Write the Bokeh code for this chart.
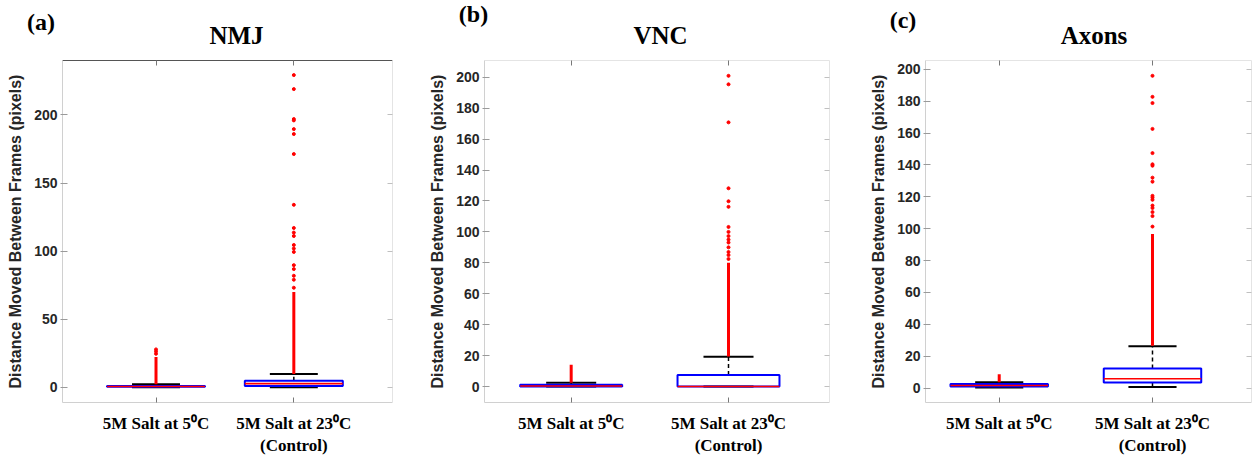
from bokeh.plotting import figure
from bokeh.models import Range1d, FixedTicker, LinearAxis
from bokeh.layouts import row, column
from bokeh.embed import file_html
from bokeh.resources import INLINE
from bokeh.core.properties import value

# ---------------- data ----------------
categories = ["5M Salt at 5\u2070C", "5M Salt at 23\u2070C\n(Control)"]
cat_pos = [1, 2]
panel_letters = ["(a)", "(b)", "(c)"]
panel_titles = ["NMJ", "VNC", "Axons"]
y_label = "Distance Moved Between Frames (pixels)"

# NMJ
nmj_q1 = [0.3, 1.0]
nmj_med = [0.6, 2.7]
nmj_q3 = [1.0, 4.7]
nmj_wlo = [0.0, 0.0]
nmj_whi = [2.2, 9.8]
nmj_dense_lo = [2.2, 9.8]
nmj_dense_hi = [22.2, 70.0]
nmj_out_1 = [27.8, 26.3, 24.6]
nmj_out_2 = [229.3, 219.0, 197.0, 196.0, 189.6, 186.0, 171.3, 134.0, 117.0,
             113.6, 111.1, 104.5, 101.9, 99.4, 89.7, 86.8, 81.9, 79.0, 73.1]
nmj_yticks = [0, 50, 100, 150, 200]

# VNC
vnc_q1 = [0.0, 0.0]
vnc_med = [0.4, 0.0]
vnc_q3 = [1.2, 7.4]
vnc_wlo = [0.0, 0.0]
vnc_whi = [2.5, 19.2]
vnc_dense_lo = [2.5, 19.5]
vnc_dense_hi = [14.1, 80.0]
vnc_out_1 = []
vnc_out_2 = [200.9, 195.4, 170.8, 128.2, 119.8, 116.2, 103.2, 100.0, 97.3,
             95.0, 93.1, 90.0, 87.0, 85.0, 82.5]
vnc_yticks = [0, 20, 40, 60, 80, 100, 120, 140, 160, 180, 200]

# Axons
axn_q1 = [1.0, 3.5]
axn_med = [1.6, 5.8]
axn_q3 = [2.5, 12.3]
axn_wlo = [0.4, 0.6]
axn_whi = [3.7, 26.3]
axn_dense_lo = [3.7, 26.5]
axn_dense_hi = [8.6, 96.6]
axn_out_1 = []
axn_out_2 = [195.9, 182.7, 178.8, 162.6, 147.4, 140.4, 139.5, 132.0, 129.5,
             120.6, 119.5, 118.1, 114.5, 113.0, 110.4, 107.9, 101.3]
axn_yticks = [0, 20, 40, 60, 80, 100, 120, 140, 160, 180, 200]

panels_data = [
    dict(q1=nmj_q1, med=nmj_med, q3=nmj_q3, wlo=nmj_wlo, whi=nmj_whi,
         dlo=nmj_dense_lo, dhi=nmj_dense_hi, o1=nmj_out_1, o2=nmj_out_2, yt=nmj_yticks),
    dict(q1=vnc_q1, med=vnc_med, q3=vnc_q3, wlo=vnc_wlo, whi=vnc_whi,
         dlo=vnc_dense_lo, dhi=vnc_dense_hi, o1=vnc_out_1, o2=vnc_out_2, yt=vnc_yticks),
    dict(q1=axn_q1, med=axn_med, q3=axn_q3, wlo=axn_wlo, whi=axn_whi,
         dlo=axn_dense_lo, dhi=axn_dense_hi, o1=axn_out_1, o2=axn_out_2, yt=axn_yticks),
]

# ---------------- layout (page pixel geometry) ----------------
HEAD_H = 55
FIG_H = 403
TOTAL_W = 1252
geoms = [
    dict(x0=0, w=420, fl=62, fr=392, ft=60, fb=404, xr=(0.3215, 2.716), yr=(-11.2, 240.0),
         bw=0.711, cw=0.348, top_dark=True),
    dict(x0=420, w=420, fl=484, fr=829, ft=57, fb=407, xr=(0.449, 2.642), yr=(-10.3, 210.8),
         bw=0.648, cw=0.318, top_dark=False),
    dict(x0=840, w=412, fl=925, fr=1251, ft=55, fb=403, xr=(0.519, 2.646), yr=(-9.06, 205.5),
         bw=0.636, cw=0.314, top_dark=False),
]
letter_pos_x = [40.5, 473, 902.5]
letter_pos_y = [21, 13.5, 19]
title_pos_x = [236, 660, 1093.5]
title_pos_y = [35, 35, 35]

LIGHT = "#d0d0d0"
TICKC = "#9a9a9a"
TXT = "#262626"

# ---------------- header strip with panel letters and titles ----------------
head = figure(width=TOTAL_W, height=HEAD_H, output_backend="svg", toolbar_location=None,
              x_range=Range1d(0, TOTAL_W), y_range=Range1d(HEAD_H, 0),
              x_axis_type=None, y_axis_type=None, min_border=0)
head.outline_line_color = None
head.grid.visible = False
head.text(x=letter_pos_x, y=letter_pos_y, text=panel_letters,
          text_font=value("Liberation Serif"), text_font_style="bold",
          text_font_size="24px", text_align="center", text_baseline="middle",
          text_color="black")
head.text(x=title_pos_x, y=title_pos_y, text=panel_titles,
          text_font=value("Liberation Serif"), text_font_style="bold",
          text_font_size="25px", text_align="center", text_baseline="middle",
          text_color="black")

figs = []
for i, (d, g) in enumerate(zip(panels_data, geoms)):
    p = figure(width=g["w"], height=FIG_H, output_backend="svg", toolbar_location=None,
               x_range=Range1d(*g["xr"]), y_range=Range1d(*g["yr"]),
               min_border_left=g["fl"] - g["x0"], min_border_right=g["x0"] + g["w"] - g["fr"],
               min_border_top=max(0, g["ft"] - HEAD_H),
               min_border_bottom=HEAD_H + FIG_H - g["fb"])
    p.outline_line_color = None
    p.xgrid.visible = False
    p.ygrid.visible = False

    # bottom axis
    xa = p.xaxis[0]
    xa.ticker = FixedTicker(ticks=cat_pos)
    xa.major_label_overrides = {cat_pos[0]: categories[0], cat_pos[1]: categories[1]}
    xa.major_label_text_font = "Liberation Serif"
    xa.major_label_text_font_style = "bold"
    xa.major_label_text_font_size = "17px"
    xa.major_label_text_color = "black"
    xa.major_label_standoff = 11
    xa.major_tick_in = 5
    xa.major_tick_out = 0
    xa.minor_tick_line_color = None
    xa.axis_line_color = LIGHT
    xa.major_tick_line_color = "#777777"

    # left axis
    ya = p.yaxis[0]
    ya.ticker = FixedTicker(ticks=d["yt"])
    ya.major_label_text_font = "Liberation Sans"
    ya.major_label_text_font_style = "bold"
    ya.major_label_text_font_size = "14px"
    ya.major_label_text_color = TXT
    ya.major_label_standoff = 3
    ya.major_tick_in = 5
    ya.major_tick_out = 2
    ya.minor_tick_line_color = None
    ya.axis_line_color = LIGHT
    ya.major_tick_line_color = TICKC
    ya.axis_label = y_label
    ya.axis_label_text_font = "Liberation Sans"
    ya.axis_label_text_font_style = "bold"
    ya.axis_label_text_font_size = "16px"
    ya.axis_label_text_color = TXT
    ya.axis_label_standoff = 7

    # right axis (ticks only)
    ra = LinearAxis(ticker=FixedTicker(ticks=d["yt"]), major_label_text_font_size="0px",
                    major_label_text_color=None,
                    major_tick_in=5, major_tick_out=0, minor_tick_line_color=None,
                    axis_line_color="#e4e4e4", major_tick_line_color="#c0c0c0",
                    major_label_standoff=0)
    p.add_layout(ra, "right")

    # top axis (ticks only)
    top_c = "#555555" if g["top_dark"] else "#e4e4e4"
    ta = LinearAxis(ticker=FixedTicker(ticks=cat_pos), major_label_text_font_size="0px",
                    major_label_text_color=None,
                    major_tick_in=5, major_tick_out=0, minor_tick_line_color=None,
                    axis_line_color=top_c, major_tick_line_color="#777777",
                    major_label_standoff=0)
    p.add_layout(ta, "above")

    bw, cw = g["bw"], g["cw"]
    xs = cat_pos
    # whiskers (dashed)
    p.segment(x0=xs, y0=d["q3"], x1=xs, y1=d["whi"], line_color="black", line_width=1.5,
              line_dash="4 3")
    p.segment(x0=xs, y0=d["wlo"], x1=xs, y1=d["q1"], line_color="black", line_width=1.5,
              line_dash="4 3")
    # caps
    p.segment(x0=[x - cw / 2 for x in xs], y0=d["whi"], x1=[x + cw / 2 for x in xs],
              y1=d["whi"], line_color="black", line_width=2)
    p.segment(x0=[x - cw / 2 for x in xs], y0=d["wlo"], x1=[x + cw / 2 for x in xs],
              y1=d["wlo"], line_color="black", line_width=2)
    # boxes
    p.quad(left=[x - bw / 2 for x in xs], right=[x + bw / 2 for x in xs],
           bottom=d["q1"], top=d["q3"], fill_color=None, line_color="#0000ff", line_width=2)
    # medians
    p.segment(x0=[x - bw / 2 for x in xs], y0=d["med"], x1=[x + bw / 2 for x in xs],
              y1=d["med"], line_color="#ff0000", line_width=1.6)
    # dense outlier columns
    p.segment(x0=xs, y0=d["dlo"], x1=xs, y1=d["dhi"], line_color="#ff0000", line_width=3)
    # sparse outliers
    if d["o1"]:
        p.scatter(x=[xs[0]] * len(d["o1"]), y=d["o1"], size=3, color="#ff0000")
    if d["o2"]:
        p.scatter(x=[xs[1]] * len(d["o2"]), y=d["o2"], size=3, color="#ff0000")

    figs.append(p)

layout = column(head, row(*figs, spacing=0), spacing=0)
open("out.html", "w").write(file_html(layout, INLINE))
